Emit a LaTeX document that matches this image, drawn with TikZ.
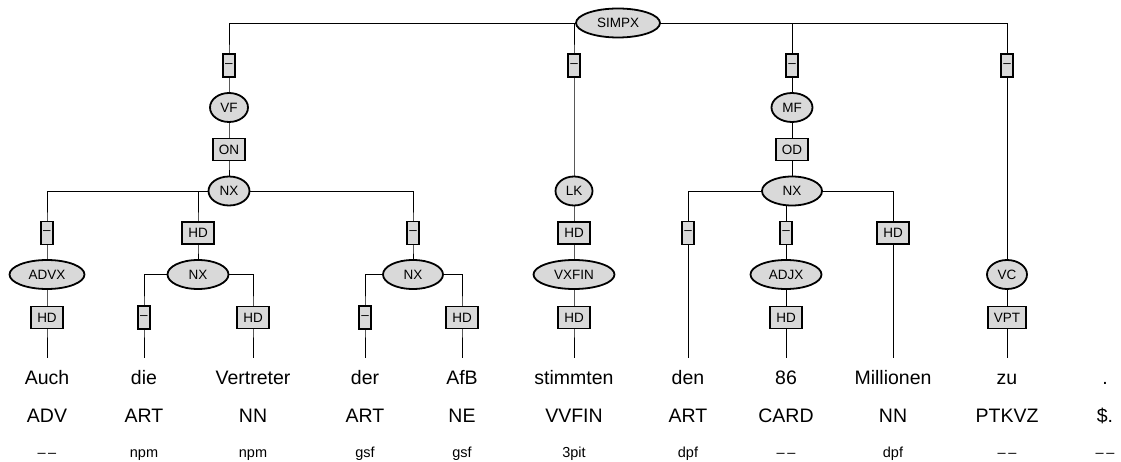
\documentclass[tikz,border=0pt]{standalone}
\usepackage{fontspec}
\setmainfont{Liberation Sans}
\usetikzlibrary{shapes.geometric,backgrounds}

\definecolor{nodegray}{RGB}{217,217,217}

\newcommand*{\ytop}{23}
\newcommand*{\yedgeA}{65.5}
\newcommand*{\yfield}{107.5}
\newcommand*{\yfunc}{149.5}
\newcommand*{\yphrA}{191}
\newcommand*{\yedgeB}{233}
\newcommand*{\yphrB}{274.5}
\newcommand*{\yedgeC}{317.5}
\newcommand*{\yword}{384}
\newcommand*{\ytag}{422}
\newcommand*{\ymorph}{457}
\newcommand*{\nomorph}{–\hspace{2.5pt}–}

\begin{document}
\begin{tikzpicture}
[
	x=1pt, y=-1pt,
	cat/.style={ellipse,draw,fill=nodegray,line width=1.8pt,inner sep=0pt,minimum height=29pt,minimum width=40pt,font=\fontsize{13.5}{14}\selectfont},
	fn/.style={rectangle,draw,fill=nodegray,line width=1.8pt,inner xsep=6pt,inner ysep=0pt,minimum height=22pt,font=\fontsize{13.5}{14}\selectfont},
	dashbox/.style={fn,inner xsep=2.2pt,minimum height=23pt},
	word/.style={anchor=base,inner xsep=0pt,inner ysep=12pt,text height=14pt,text depth=4pt,font=\fontsize{19.5}{20}\selectfont},
	tag/.style={anchor=base,font=\fontsize{19.5}{20}\selectfont},
	morph/.style={anchor=base,font=\fontsize{14.5}{15}\selectfont},
	branch/.style={line width=2pt}
]

	\useasboundingbox (0,0) rectangle (1121,462);

	% root
	\node[cat,minimum width=84pt] (simpx) at (618,\ytop) {SIMPX};

	% fields
	\node[dashbox] (evf) at (229,\yedgeA) {–};
	\node[dashbox] (elk) at (574,\yedgeA) {–};
	\node[dashbox] (emf) at (792,\yedgeA) {–};
	\node[dashbox] (evc) at (1007,\yedgeA) {–};
	\node[cat,minimum width=38pt] (vf) at (229,\yfield) {VF};
	\node[cat,minimum width=41pt] (mf) at (792,\yfield) {MF};
	\node[fn] (on) at (229,\yfunc) {ON};
	\node[fn] (od) at (792,\yfunc) {OD};
	\node[cat,minimum width=41pt] (nxa) at (229,\yphrA) {NX};
	\node[cat,minimum width=37pt] (lk) at (574,\yphrA) {LK};
	\node[cat,minimum width=60pt] (nxm) at (792,\yphrA) {NX};

	% phrases
	\node[dashbox] (ea1) at (47,\yedgeB) {–};
	\node[fn] (ea2) at (198,\yedgeB) {HD};
	\node[dashbox] (ea3) at (413,\yedgeB) {–};
	\node[fn] (elk2) at (574,\yedgeB) {HD};
	\node[dashbox] (em1) at (688,\yedgeB) {–};
	\node[dashbox] (em2) at (786,\yedgeB) {–};
	\node[fn] (em3) at (893,\yedgeB) {HD};
	\node[cat,minimum width=75pt] (advx) at (47,\yphrB) {ADVX};
	\node[cat,minimum width=61pt] (nxb) at (198,\yphrB) {NX};
	\node[cat,minimum width=60pt] (nxc) at (413,\yphrB) {NX};
	\node[cat,minimum width=81pt] (vxfin) at (574,\yphrB) {VXFIN};
	\node[cat,minimum width=71pt] (adjx) at (786,\yphrB) {ADJX};
	\node[cat,minimum width=40pt] (vc) at (1007,\yphrB) {VC};
	\node[fn] (eadvx) at (47,\yedgeC) {HD};
	\node[dashbox] (eb1) at (144,\yedgeC) {–};
	\node[fn] (eb2) at (253,\yedgeC) {HD};
	\node[dashbox] (ec1) at (365,\yedgeC) {–};
	\node[fn] (ec2) at (462,\yedgeC) {HD};
	\node[fn] (evx) at (574,\yedgeC) {HD};
	\node[fn] (eadjx) at (786,\yedgeC) {HD};
	\node[fn] (evpt) at (1007,\yedgeC) {VPT};

	% words, tags, morphology
	\node[word] (w1) at (47,\yword) {Auch};     \node[tag] (t1) at (47,\ytag) {ADV};      \node[morph] (m1) at (47,\ymorph) {\nomorph};
	\node[word] (w2) at (144,\yword) {die};     \node[tag] (t2) at (144,\ytag) {ART};     \node[morph] (m2) at (144,\ymorph) {npm};
	\node[word] (w3) at (253,\yword) {Vertreter}; \node[tag] (t3) at (253,\ytag) {NN};    \node[morph] (m3) at (253,\ymorph) {npm};
	\node[word] (w4) at (365,\yword) {der};     \node[tag] (t4) at (365,\ytag) {ART};     \node[morph] (m4) at (365,\ymorph) {gsf};
	\node[word] (w5) at (462,\yword) {AfB};     \node[tag] (t5) at (462,\ytag) {NE};      \node[morph] (m5) at (462,\ymorph) {gsf};
	\node[word] (w6) at (574,\yword) {stimmten}; \node[tag] (t6) at (574,\ytag) {VVFIN};  \node[morph] (m6) at (574,\ymorph) {3pit};
	\node[word] (w7) at (688,\yword) {den};     \node[tag] (t7) at (688,\ytag) {ART};     \node[morph] (m7) at (688,\ymorph) {dpf};
	\node[word] (w8) at (786,\yword) {86};      \node[tag] (t8) at (786,\ytag) {CARD};    \node[morph] (m8) at (786,\ymorph) {\nomorph};
	\node[word] (w9) at (893,\yword) {Millionen}; \node[tag] (t9) at (893,\ytag) {NN};    \node[morph] (m9) at (893,\ymorph) {dpf};
	\node[word] (w10) at (1007,\yword) {zu};    \node[tag] (t10) at (1007,\ytag) {PTKVZ}; \node[morph] (m10) at (1007,\ymorph) {\nomorph};
	\node[word] (w11) at (1105,\yword) {.};     \node[tag] (t11) at (1105,\ytag) {\$.};   \node[morph] (m11) at (1105,\ymorph) {\nomorph};

	% branches
	\begin{scope}[on background layer,branch]
	\draw (simpx.center) -| (evf.center) -- (vf.center) -- (on.center) -- (nxa.center);
	\draw (simpx.center) -| (elk.center) -- (lk.center) -- (elk2.center) -- (vxfin.center) -- (evx.center) -- (w6.north);
	\draw (simpx.center) -| (emf.center) -- (mf.center) -- (od.center) -- (nxm.center);
	\draw (simpx.center) -| (evc.center) -- (vc.center) -- (evpt.center) -- (w10.north);
	\draw (nxa.center) -| (ea1.center) -- (advx.center) -- (eadvx.center) -- (w1.north);
	\draw (nxa.center) -| (ea2.center) -- (nxb.center);
	\draw (nxa.center) -| (ea3.center) -- (nxc.center);
	\draw (nxb.center) -| (eb1.center) -- (w2.north);
	\draw (nxb.center) -| (eb2.center) -- (w3.north);
	\draw (nxc.center) -| (ec1.center) -- (w4.north);
	\draw (nxc.center) -| (ec2.center) -- (w5.north);
	\draw (nxm.center) -| (em1.center) -- (w7.north);
	\draw (nxm.center) -| (em2.center) -- (adjx.center) -- (eadjx.center) -- (w8.north);
	\draw (nxm.center) -| (em3.center) -- (w9.north);
	\end{scope}

\end{tikzpicture}
\end{document}
